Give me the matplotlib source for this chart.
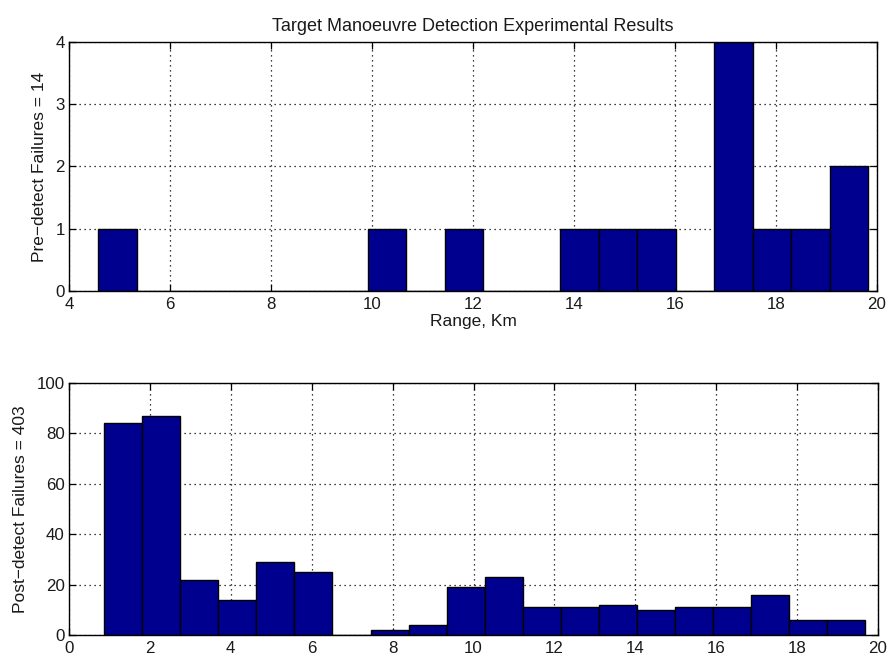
import numpy as np
import matplotlib
matplotlib.use("Agg")
import matplotlib.pyplot as plt

plt.rcParams['font.family'] = ['Liberation Sans', 'DejaVu Sans']

# Histogram data: range bins (km) and failure counts
pre_range_min, pre_range_max = 4.58, 19.83
pre_counts = [1, 0, 0, 0, 0, 0, 0, 1, 0, 1, 0, 0, 1, 1, 1, 0, 4, 1, 1, 2]

post_range_min, post_range_max = 0.866, 19.69
post_counts = [84, 87, 22, 14, 29, 25, 0, 2, 4, 19, 23, 11, 11, 12, 10, 11, 11, 16, 6, 6]

title = "Target Manoeuvre Detection Experimental Results"
xlabel_top = "Range, Km"
ylabel_top = "Pre\u2212detect Failures = %d" % sum(pre_counts)
ylabel_bottom = "Post\u2212detect Failures = %d" % sum(post_counts)

bar_color = "#00008F"
text_color = "#1a1a1a"
FS = 12.5

fig = plt.figure(figsize=(8.88, 6.57), dpi=100)
W, H = 888, 657
ax1 = fig.add_axes([69 / W, 1 - 291 / H, (877 - 69) / W, (291 - 42) / H])
ax2 = fig.add_axes([69 / W, 1 - 635 / H, (878 - 69) / W, (635 - 383) / H])


def draw_hist(ax, lo, hi, counts, xlim, ylim, yticks, xticks):
    edges = np.linspace(lo, hi, len(counts) + 1)
    widths = np.diff(edges)
    ax.bar(edges[:-1], counts, width=widths, align='edge',
           color=bar_color, edgecolor='black', linewidth=1.0, zorder=2)
    ax.set_xlim(*xlim)
    ax.set_ylim(*ylim)
    ax.set_xticks(xticks)
    ax.set_yticks(yticks)
    ax.set_axisbelow(True)
    ax.grid(True, linestyle=(0, (1, 3)), color='black', linewidth=0.9)
    ax.tick_params(direction='in', top=True, right=True, length=5,
                   labelsize=12.2, width=0.9, labelcolor=text_color)
    ax.tick_params(axis='x', pad=4)
    ax.tick_params(axis='y', pad=3)
    for sp in ax.spines.values():
        sp.set_linewidth(1.0)


draw_hist(ax1, pre_range_min, pre_range_max, pre_counts,
          (4, 20), (0, 4), [0, 1, 2, 3, 4], [4, 6, 8, 10, 12, 14, 16, 18, 20])
ax1.set_title(title, fontsize=13, pad=8, color=text_color)
ax1.set_xlabel(xlabel_top, fontsize=FS, labelpad=2, color=text_color)
ax1.set_ylabel(ylabel_top, fontsize=FS, labelpad=6, color=text_color)

draw_hist(ax2, post_range_min, post_range_max, post_counts,
          (0, 20), (0, 100), [0, 20, 40, 60, 80, 100],
          [0, 2, 4, 6, 8, 10, 12, 14, 16, 18, 20])
ax2.set_ylabel(ylabel_bottom, fontsize=FS, labelpad=6, color=text_color)

fig.savefig("out.png", dpi=100)
